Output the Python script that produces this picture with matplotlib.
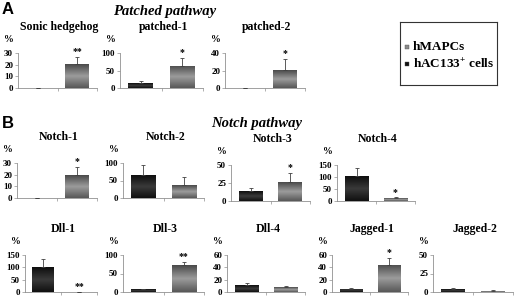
import numpy as np
import matplotlib
matplotlib.use("Agg")
import matplotlib.pyplot as plt
from matplotlib.colors import LinearSegmentedColormap

plt.rcParams['font.family'] = ['Liberation Serif', 'DejaVu Serif']
plt.rcParams['font.weight'] = 'bold'
plt.rcParams['mathtext.fontset'] = 'custom'
plt.rcParams['mathtext.rm'] = 'Liberation Serif:bold'

# ---- data ----
genes = ["Sonic hedgehog", "patched-1", "patched-2",
         "Notch-1", "Notch-2", "Notch-3", "Notch-4",
         "Dll-1", "Dll-3", "Dll-4", "Jagged-1", "Jagged-2"]
hac133 = [0, 14, 0, 0.3, 65, 13.4, 103, 100, 7, 11, 5, 4]
hac133_err = [0, 6.5, 0, 0, 28, 5, 33, 34, 2, 4, 1, 2]
hmapc = [20.5, 63.5, 20.5, 19.3, 37, 26, 11, 2, 72, 7.6, 44, 2]
hmapc_err = [6.5, 23.5, 13, 7.7, 24, 13, 4, 0, 10, 2.4, 11, 1]
stars = ["**", "*", "*", "*", "", "*", "*", "**", "**", "", "*", ""]
ymax = [30, 100, 40, 30, 100, 50, 150, 150, 100, 60, 60, 50]
ystep = [10, 50, 20, 10, 50, 25, 50, 50, 50, 20, 20, 25]
series = ["hMAPCs", "hAC133$^{+}$ cells"]

# ---- layout (pixel boxes: left, right, top, bottom) ----
W, H = 520, 297
boxes = [(18, 97, 53, 88), (120, 203, 53, 88), (225, 305, 53, 88),
         (17, 97, 163, 198), (123, 204, 163, 198), (231, 310, 165, 201), (337, 415, 165, 201),
         (25, 97, 255, 292), (123, 204, 255, 292), (227, 305, 255, 292),
         (332, 408, 255, 292), (433, 513, 255, 292)]

fig = plt.figure(figsize=(W / 100, H / 100), dpi=100)

grey_cmap = LinearSegmentedColormap.from_list("g", ["#4a4a4a", "#9c9c9c", "#585858"])
black_cmap = LinearSegmentedColormap.from_list("b", ["#0e0e0e", "#3a3a3a", "#101010"])
grad = np.linspace(0, 1, 64).reshape(-1, 1)

px = 0.72  # points per pixel

for i, g in enumerate(genes):
    l, r, t, b = boxes[i]
    ax = fig.add_axes([l / W, 1 - b / H, (r - l) / W, (b - t) / H])
    x = np.array([0, 1])
    vals = [hac133[i], hmapc[i]]
    errs = [hac133_err[i], hmapc_err[i]]
    bars = ax.bar(x, vals, width=0.6, color=["#1a1a1a", "#707070"], zorder=2)
    for bar, cm in zip(bars, [black_cmap, grey_cmap]):
        bx, by = bar.get_x(), bar.get_y()
        bw, bh = bar.get_width(), bar.get_height()
        if bh <= 0:
            continue
        im = ax.imshow(grad, cmap=cm, aspect='auto', extent=[bx, bx + bw, by, by + bh],
                       origin='upper', zorder=3)
        im.set_clip_path(bar)
    ax.errorbar(x, vals, yerr=[[0, 0], errs], fmt='none', ecolor='#404040',
                elinewidth=0.6, capsize=1.5, capthick=0.6, zorder=4)
    if stars[i]:
        top = hmapc[i] + hmapc_err[i]
        ax.annotate(stars[i], (1, top), xytext=(0, 0.5), textcoords='offset points',
                    ha='center', va='bottom', fontsize=7, fontweight='bold')
    ax.set_xlim(-0.5, 1.5)
    ax.set_ylim(0, ymax[i])
    ax.set_yticks(np.arange(0, ymax[i] + 0.1, ystep[i]))
    ax.set_xticks([0.5, 1.5])
    ax.set_xticklabels([])
    ax.tick_params(axis='y', length=2, width=0.5, colors='#909090', labelcolor='black',
                   labelsize=6.5, pad=1.5)
    ax.tick_params(axis='x', length=2, width=0.5, colors='#909090')
    for lab in ax.get_yticklabels():
        lab.set_fontweight('bold')
    for s in ['top', 'right']:
        ax.spines[s].set_visible(False)
    for s in ['left', 'bottom']:
        ax.spines[s].set_color('#909090')
        ax.spines[s].set_linewidth(0.6)
    ax.set_facecolor('none')
    ax.annotate("%", (0, 1), xycoords='axes fraction', xytext=(-9 * px, 13 * px),
                textcoords='offset points', ha='center', va='center', fontsize=7,
                fontweight='bold')
    ax.annotate(g, (0.5, 1), xycoords='axes fraction', xytext=(2 * px, 26 * px),
                textcoords='offset points', ha='center', va='center', fontsize=8.5,
                fontweight='bold')

# panel letters and headings
fig.text(2 / W, 1 - 10 / H, "A", fontsize=12, fontweight='bold', family='Liberation Sans',
         va='center', ha='left')
fig.text(2 / W, 1 - 124 / H, "B", fontsize=12, fontweight='bold', family='Liberation Sans',
         va='center', ha='left')
fig.text(165 / W, 1 - 12 / H, "Patched pathway", fontsize=10.5, fontweight='bold',
         style='italic', ha='center', va='center')
fig.text(257 / W, 1 - 123 / H, "Notch pathway", fontsize=10.5, fontweight='bold',
         style='italic', ha='center', va='center')

# legend box
lax = fig.add_axes([400 / W, 1 - 85 / H, 97 / W, 63 / H])
lax.set_xticks([]); lax.set_yticks([])
for s in lax.spines.values():
    s.set_linewidth(0.8)
    s.set_color('#333333')
lax.set_xlim(0, 97); lax.set_ylim(63, 0)
leg_colors = ["#8a8a8a", "#111111"]
leg_y = [25, 42]
for name, c, yy in zip(series, leg_colors, leg_y):
    lax.scatter([7], [yy], marker='s', s=9, color=c, edgecolors='#555555', linewidths=0.3)
    lax.text(13, yy, name, fontsize=9.5, fontweight='bold', va='center', ha='left')

fig.savefig("out.png", dpi=100)
